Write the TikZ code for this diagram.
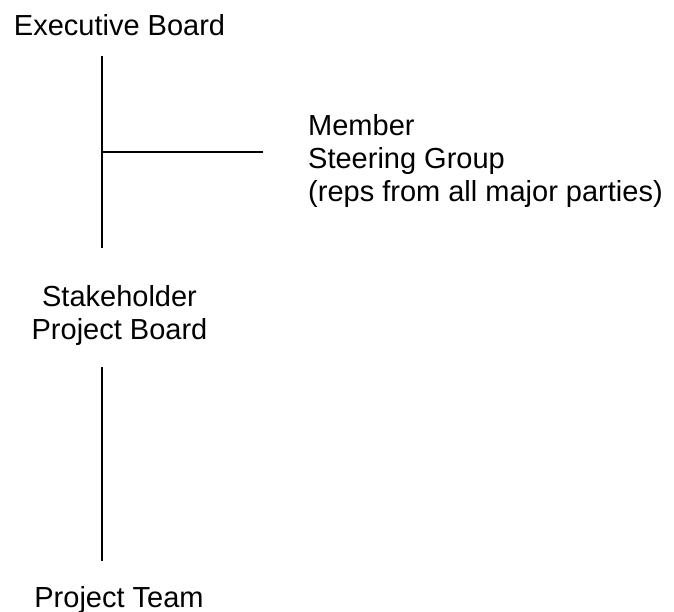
\documentclass[tikz,border=0pt]{standalone}
\usepackage{fontspec}
\setmainfont{Liberation Sans}
\usetikzlibrary{positioning}

\begin{document}
\begin{tikzpicture}[x=1pt, y=-1pt,
    boardlabel/.style={inner sep=0pt, anchor=base, font=\fontsize{29}{33}\selectfont},
    link/.style={line width=1.8pt}]
    \useasboundingbox (0,0) rectangle (674,612);

    % Draw the boards and the team
    \node[boardlabel] (exec) at (119.5,36) {Executive Board};
    \node[boardlabel, align=center] (stake) at (119.5,339) {Stakeholder\\Project Board};
    \node[boardlabel] (team) at (119,607) {Project Team};
    \node[boardlabel, align=left, anchor=base west] (steer) at (308,202) {Member\\Steering Group\\(reps from all major parties)};

    % Line ends
    \coordinate (execfoot) at (102,56);
    \coordinate (stakehead) at (102,248);
    \coordinate (branch) at (102,152);
    \coordinate (steerend) at (263,152);
    \coordinate (stakefoot) at (102,367);
    \coordinate (teamhead) at (102,561);

    % Draw the links
    \draw[link] (execfoot) -- (stakehead);
    \draw[link] (branch) -- (steerend);
    \draw[link] (stakefoot) -- (teamhead);
\end{tikzpicture}
\end{document}
